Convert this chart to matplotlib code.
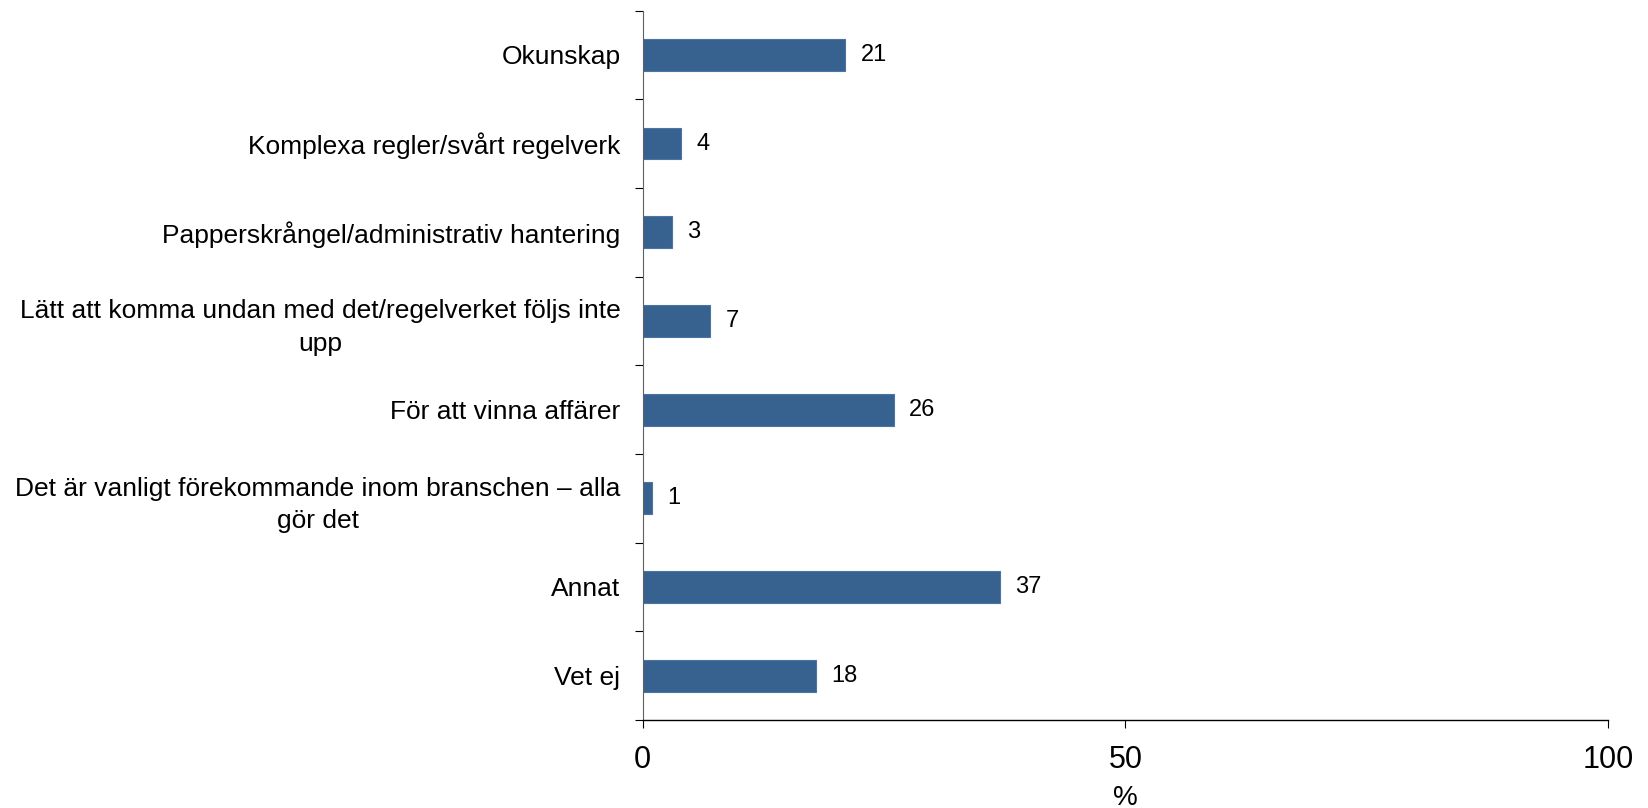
import numpy as np
import matplotlib.pyplot as plt

plt.rcParams['font.family'] = ['Liberation Sans', 'DejaVu Sans']

categories = [
    "Okunskap",
    "Komplexa regler/svårt regelverk",
    "Papperskrångel/administrativ hantering",
    "Lätt att komma undan med det/regelverket följs inte\nupp",
    "För att vinna affärer",
    "Det är vanligt förekommande inom branschen – alla\ngör det",
    "Annat",
    "Vet ej",
]
values = [21, 4, 3, 7, 26, 1, 37, 18]
xticks = [0, 50, 100]

fig = plt.figure(figsize=(16.48, 8.08), dpi=100)
ax = fig.add_axes([0.390, 0.109, 0.5857, 0.878])

y = np.arange(len(categories))
ax.barh(y, values, height=0.36, color='#37618F', edgecolor='#4A74A4', linewidth=0.8)

for yi, v in zip(y, values):
    ax.annotate(str(v), (v, yi), xytext=(11, 0), textcoords='offset points',
                va='center', ha='left', fontsize=17)

ax.set_xlim(0, 100)
ax.set_ylim(len(categories) - 0.5, -0.5)

ax.set_xticks(xticks)
ax.set_xticklabels([str(t) for t in xticks], fontsize=22)
ax.tick_params(axis='x', direction='out', length=6, width=0.8, pad=12)

ax.set_yticks(np.arange(-0.5, len(categories), 1.0))
ax.set_yticklabels([])
ax.set_yticks(y, minor=True)
ax.set_yticklabels(categories, minor=True, fontsize=19, multialignment='center',
                   linespacing=1.45)
ax.tick_params(axis='y', which='major', direction='out', length=6, width=0.8)
ax.tick_params(axis='y', which='minor', length=0, pad=16)

ax.set_xlabel('%', fontsize=20, labelpad=7)

for s in ['top', 'right']:
    ax.spines[s].set_visible(False)
ax.spines['left'].set_color('#606060')
ax.spines['left'].set_linewidth(0.8)
ax.spines['bottom'].set_linewidth(1.0)

fig.savefig('out.png', dpi=100)
